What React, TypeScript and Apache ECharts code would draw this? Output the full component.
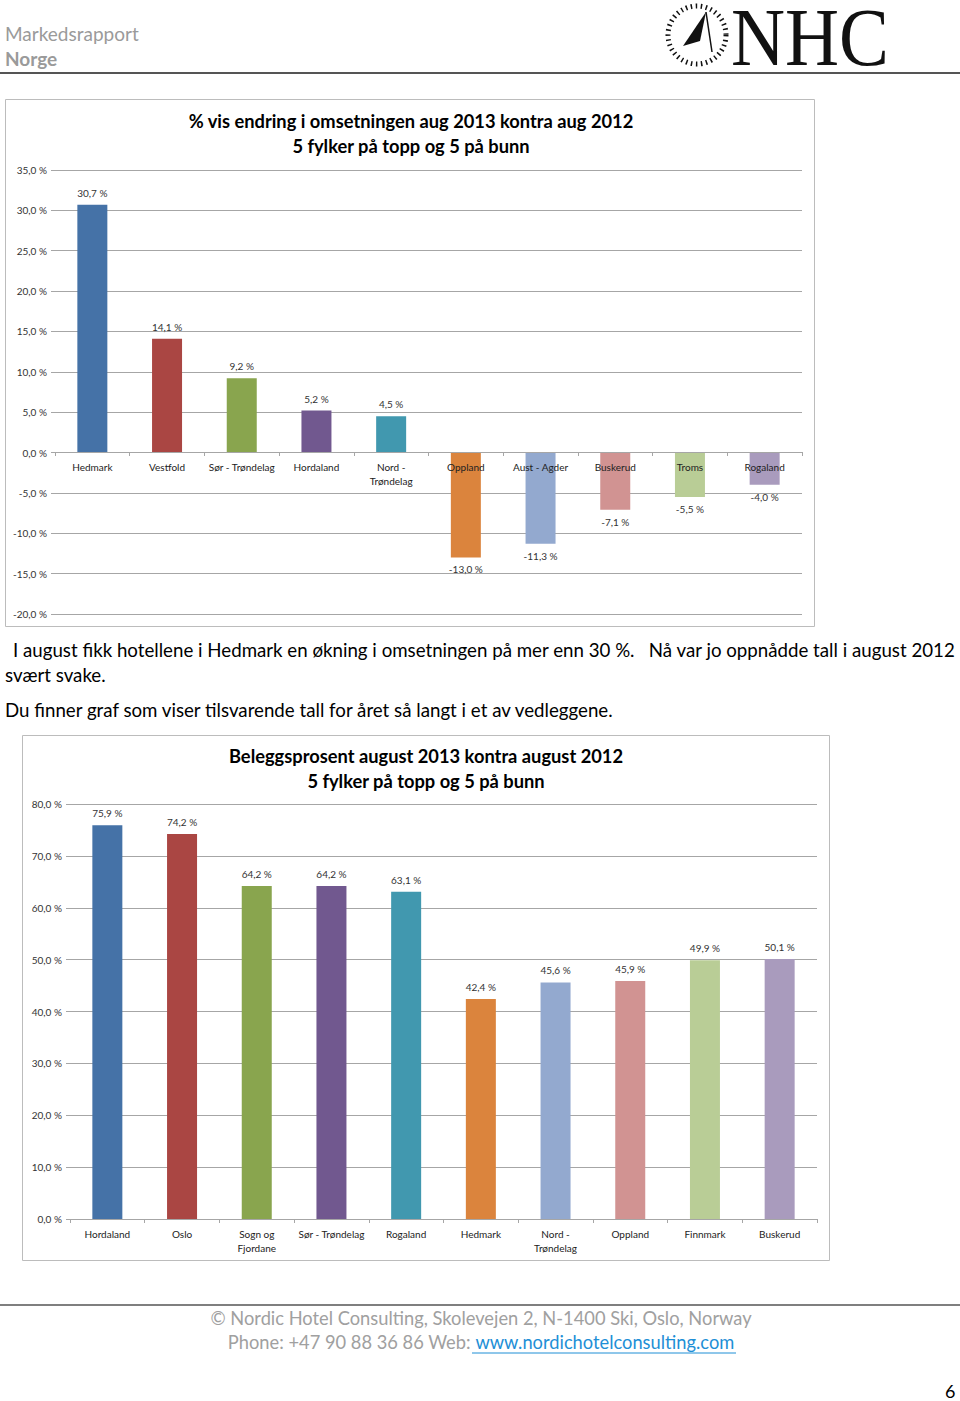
import React, { useEffect, useRef } from "react";
import * as echarts from "echarts";

const cats1 = ["Hedmark", "Vestfold", "Sør - Trøndelag", "Hordaland", "Nord -\nTrøndelag", "Oppland", "Aust - Agder", "Buskerud", "Troms", "Rogaland"];
const vals1 = [30.7, 14.1, 9.2, 5.2, 4.5, -13.0, -11.3, -7.1, -5.5, -4.0];

const cats2 = ["Hordaland", "Oslo", "Sogn og\nFjordane", "Sør - Trøndelag", "Rogaland", "Hedmark", "Nord -\nTrøndelag", "Oppland", "Finnmark", "Buskerud"];
const vals2 = [75.9, 74.2, 64.2, 64.2, 63.1, 42.4, 45.6, 45.9, 49.9, 50.1];

const colors = ["#4572A7", "#AA4643", "#89A54E", "#71588F", "#4198AF", "#DB843D", "#93A9CF", "#D19392", "#B9CD96", "#A99BBD"];

const title1 = "% vis endring i omsetningen aug 2013 kontra aug 2012\n5 fylker på topp og 5 på bunn";
const title2 = "Beleggsprosent august 2013 kontra august 2012\n5 fylker på topp og 5 på bunn";

const FONT = "Lato, 'Noto Sans', sans-serif";
const fmt = (v: number) => v.toFixed(1).replace(".", ",") + " %";

export default function App() {
  const ref = useRef<HTMLDivElement>(null);
  useEffect(() => {
    if (!ref.current) return;
    const chart = echarts.init(ref.current, null, { renderer: "svg" });
    const axisLabel = { fontSize: 10, color: "#333", fontFamily: FONT };
    const catAxis = (gi: number, data: string[], offset: number) => ({
      type: "category",
      gridIndex: gi,
      data,
      position: "bottom",
      offset,
      z: 5,
      axisLine: { onZero: false, lineStyle: { color: "#a6a6a6" } },
      axisTick: { show: true, length: 4, lineStyle: { color: "#a6a6a6" } },
      axisLabel: { ...axisLabel, color: "#222", margin: 8, lineHeight: 14, interval: 0 },
    });
    const valAxis = (gi: number, min: number, max: number, interval: number) => ({
      type: "value",
      gridIndex: gi,
      min,
      max,
      interval,
      axisLine: { show: false },
      axisTick: { show: true, length: 4, lineStyle: { color: "#a6a6a6" } },
      splitLine: { lineStyle: { color: "#a6a6a6", width: 1 } },
      axisLabel: { ...axisLabel, margin: 8, formatter: (v: number) => fmt(v) },
    });
    const barData = (vals: number[]) =>
      vals.map((v, i) => ({
        value: v,
        itemStyle: { color: colors[i] },
        label: { position: v < 0 ? "bottom" : "top" },
      }));
    const labelCfg = { show: true, fontSize: 10, color: "#333", fontFamily: FONT, distance: 7, formatter: (p: any) => fmt(p.value) };

    chart.setOption({
      animation: false,
      grid: [
        { left: 55, top: 170, width: 747, height: 444 },
        { left: 70, top: 804, width: 747, height: 415 },
      ],
      xAxis: [catAxis(0, cats1, -162), catAxis(1, cats2, 0)],
      yAxis: [valAxis(0, -20, 35, 5), valAxis(1, 0, 80, 10)],
      series: [
        { type: "bar", xAxisIndex: 0, yAxisIndex: 0, barWidth: 30, data: barData(vals1), label: labelCfg },
        { type: "bar", xAxisIndex: 1, yAxisIndex: 1, barWidth: 30, data: barData(vals2), label: labelCfg },
      ],
      graphic: [
        // header
        { type: "text", left: 5, top: 24, style: { text: "Markedsrapport", font: `19px ${FONT}`, fill: "#9a9a9a" } },
        { type: "text", left: 5, top: 49, style: { text: "Norge", font: `bold 19px ${FONT}`, fill: "#9a9a9a" } },
        { type: "line", shape: { x1: 0, y1: 73, x2: 960, y2: 73 }, style: { stroke: "#555", lineWidth: 2 } },
        { type: "circle", shape: { cx: 697, cy: 35, r: 29 }, style: { fill: "none", stroke: "#111", lineWidth: 5, lineDash: [1.5, 3.5] } },
        { type: "polygon", shape: { points: [[706, 12], [683, 46], [700, 41]] }, style: { fill: "#111" } },
        { type: "line", shape: { x1: 706, y1: 12, x2: 712, y2: 52 }, style: { stroke: "#111", lineWidth: 1.5 } },
        { type: "text", x: 731, y: 37, scaleX: 1.1, scaleY: 1.2, style: { text: "NHC", font: `68px 'Liberation Serif', serif`, fill: "#111", verticalAlign: "middle", lineHeight: 50 } },
        // chart boxes
        { type: "rect", shape: { x: 5.5, y: 99.5, width: 809, height: 527 }, style: { fill: "none", stroke: "#bcbcbc", lineWidth: 1 } },
        { type: "text", x: 411, y: 108, style: { text: title1, font: `bold 18.3px ${FONT}`, fill: "#000", align: "center", lineHeight: 25 } },
        { type: "rect", shape: { x: 22.5, y: 735.5, width: 807, height: 525 }, style: { fill: "none", stroke: "#bcbcbc", lineWidth: 1 } },
        { type: "text", x: 426, y: 743, style: { text: title2, font: `bold 18.3px ${FONT}`, fill: "#000", align: "center", lineHeight: 25 } },
        // paragraphs
        { type: "text", x: 13, y: 640, style: { text: "I august fikk hotellene i Hedmark en økning i omsetningen på mer enn 30 %.   Nå var jo oppnådde tall i august 2012", font: `18.7px ${FONT}`, fill: "#000" } },
        { type: "text", x: 5, y: 665, style: { text: "svært svake.", font: `18.7px ${FONT}`, fill: "#000" } },
        { type: "text", x: 5, y: 700, style: { text: "Du finner graf som viser tilsvarende tall for året så langt i et av vedleggene.", font: `18.7px ${FONT}`, fill: "#000" } },
        // footer
        { type: "line", shape: { x1: 0, y1: 1305, x2: 960, y2: 1305 }, style: { stroke: "#555", lineWidth: 1.5 } },
        { type: "text", x: 481, y: 1309, style: { text: "© Nordic Hotel Consulting, Skolevejen 2, N-1400 Ski, Oslo, Norway", font: `18.3px ${FONT}`, fill: "#a0a0a0", align: "center" } },
        {
          type: "text", x: 481, y: 1333,
          style: {
            text: "{g|Phone: +47 90 88 36 86 Web: }{l|www.nordichotelconsulting.com}",
            align: "center",
            rich: {
              g: { font: `18.3px ${FONT}`, fill: "#a0a0a0" },
              l: { font: `18.3px ${FONT}`, fill: "#1e8fd6" },
            },
          },
        },
        { type: "line", shape: { x1: 472, y1: 1353, x2: 736, y2: 1353 }, style: { stroke: "#1e8fd6", lineWidth: 1 } },
        { type: "text", x: 945, y: 1382, style: { text: "6", font: `18px ${FONT}`, fill: "#000" } },
      ],
    });
    return () => chart.dispose();
  }, []);
  return <div ref={ref} style={{ position: "absolute", left: 0, top: 0, width: 960, height: 1401 }} />;
}
